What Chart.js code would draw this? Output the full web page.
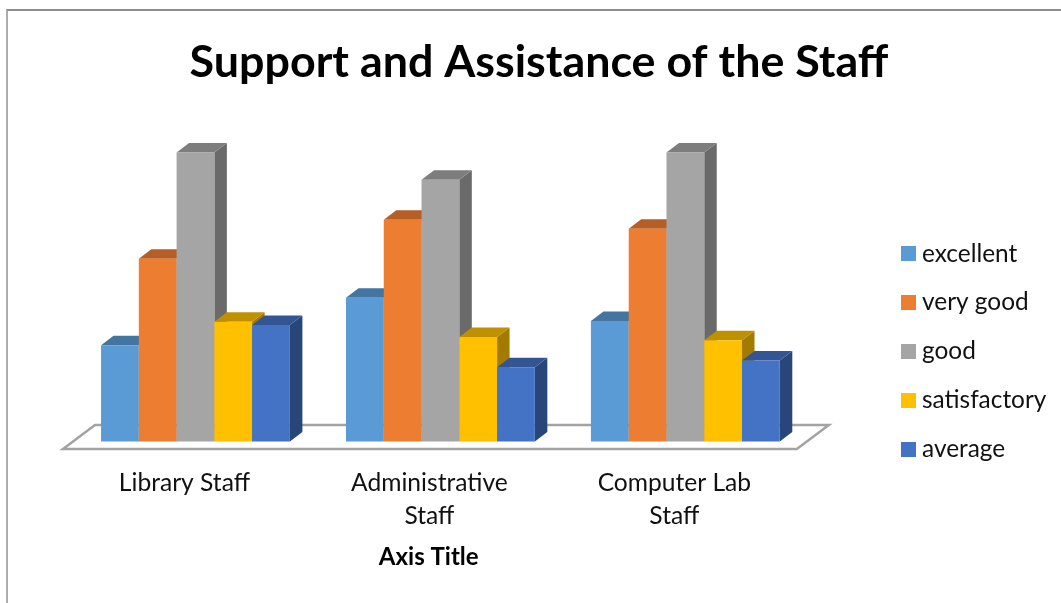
<!DOCTYPE html>
<html>
<head>
<meta charset="utf-8">
<title>Support and Assistance of the Staff</title>
<script src="https://cdn.jsdelivr.net/npm/chart.js@4"></script>
<style>
    html, body { margin: 0; padding: 0; background: #fff; overflow: hidden; }
    #frame {
        position: absolute; left: 6px; top: 9px; width: 1055px; height: 594px;
        border-left: 2px solid #adadad; border-top: 2px solid #8c8c8c;
    }
    #frame canvas { display: block; }
</style>
</head>
<body>
<div id="frame"><canvas id="chart" width="1053" height="592"></canvas></div>
<script>
// Values
const categories = [['Library Staff'], ['Administrative', 'Staff'], ['Computer Lab', 'Staff']];
const excellent = [12, 17.9, 15];
const veryGood = [22.75, 27.6, 26.5];
const good = [36, 32.6, 36];
const satisfactory = [14.9, 13, 12.6];
const average = [14.5, 9.25, 10.1];

const seriesNames = ['excellent', 'very good', 'good', 'satisfactory', 'average'];
const seriesValues = [excellent, veryGood, good, satisfactory, average];
const frontColors = ['#5b9bd5', '#ed7d31', '#a5a5a5', '#ffc000', '#4472c4'];
const topColors = ['#4475a0', '#b55e25', '#7d7d7d', '#bf9000', '#335593'];
const sideColors = ['#3a6388', '#9a5020', '#6a6a6a', '#a37b00', '#29467a'];

const FONT = 'Lato, Carlito, sans-serif';
const DEPTH_X = 12.5;
const DEPTH_Y = 9.5;

function polygon(ctx, points, fill) {
    ctx.beginPath();
    points.forEach((p, i) => i ? ctx.lineTo(p[0], p[1]) : ctx.moveTo(p[0], p[1]));
    ctx.closePath();
    ctx.fillStyle = fill;
    ctx.fill();
}

// Legend square as an image, so the text can sit closer than the default gap
function swatch(color) {
    const c = document.createElement('canvas');
    c.width = 15;
    c.height = 15;
    const g = c.getContext('2d');
    g.fillStyle = color;
    g.fillRect(0, 0, 15, 15);
    return c;
}

// Excel style 3D look: floor under the bars, top and side face on every bar
const bars3d = {
    id: 'bars3d',
    beforeDatasetsDraw(chart) {
        const ctx = chart.ctx;
        const area = chart.chartArea;
        const y0 = chart.scales.y.getPixelForValue(0);

        ctx.save();
        ctx.beginPath();
        ctx.moveTo(area.left - 10, y0 + 7.5);
        ctx.lineTo(area.right - 11, y0 + 7.5);
        ctx.lineTo(area.right + 21, y0 - 16.5);
        ctx.lineTo(area.left + 22, y0 - 16.5);
        ctx.closePath();
        ctx.strokeStyle = '#a3a3a3';
        ctx.lineWidth = 2.5;
        ctx.stroke();

        // left to right, so each bar hides the side of the one before it
        chart.getSortedVisibleDatasetMetas().sort((a, b) => a.index - b.index).forEach(meta => {
            meta.data.forEach(bar => {
                const p = bar.getProps(['x', 'y', 'base', 'width']);
                const l = p.x - p.width / 2;
                const r = p.x + p.width / 2;
                polygon(ctx, [[r, p.y], [r + DEPTH_X, p.y - DEPTH_Y], [r + DEPTH_X, p.base - DEPTH_Y], [r, p.base]], sideColors[meta.index]);
                polygon(ctx, [[l, p.y], [l + DEPTH_X, p.y - DEPTH_Y], [r + DEPTH_X, p.y - DEPTH_Y], [r, p.y]], topColors[meta.index]);
                bar.draw(ctx);
            });
        });
        ctx.restore();
    },
    beforeDatasetDraw() {
        return false;
    }
};

new Chart(document.getElementById('chart'), {
    type: 'bar',
    data: {
        labels: categories,
        datasets: seriesNames.map((name, i) => ({
            label: name,
            data: seriesValues[i],
            backgroundColor: frontColors[i],
            borderWidth: 0,
            categoryPercentage: 0.771,
            barPercentage: 1
        }))
    },
    plugins: [bars3d],
    options: {
        responsive: false,
        animation: false,
        layout: { padding: { left: 16, right: 7, top: 0, bottom: 0 } },
        plugins: {
            tooltip: { enabled: false },
            title: {
                display: true,
                text: 'Support and Assistance of the Staff',
                color: '#000',
                font: { family: FONT, size: 44.8, weight: 'bold' },
                padding: { top: 25, bottom: 30.5 }
            },
            legend: {
                position: 'right',
                // empty title only pushes the entries down
                title: { display: true, text: ' ', font: { size: 12 }, padding: 37.3 },
                labels: {
                    color: '#111',
                    font: { family: FONT, size: 24.4 },
                    usePointStyle: true,
                    pointStyleWidth: 3,
                    boxHeight: 15,
                    padding: 24.5,
                    generateLabels(chart) {
                        return Chart.defaults.plugins.legend.labels.generateLabels(chart).map((item, i) => {
                            item.pointStyle = swatch(frontColors[i]);
                            return item;
                        });
                    }
                }
            }
        },
        scales: {
            x: {
                grid: { display: false },
                border: { display: false },
                afterFit(scale) { scale.height = 161.5; },
                ticks: {
                    color: '#111',
                    font: { family: FONT, size: 24.6, lineHeight: 1.35 },
                    labelOffset: -11,
                    padding: 17,
                    maxRotation: 0,
                    autoSkip: false
                },
                title: {
                    display: true,
                    text: 'Axis Title    ',
                    color: '#000',
                    font: { family: FONT, size: 24, weight: 'bold' },
                    padding: { top: 0, bottom: 31.6 }
                }
            },
            y: {
                min: 0,
                max: 40,
                display: true,
                position: 'left',
                grid: { display: false },
                border: { display: false },
                ticks: { display: false },
                afterFit(scale) { scale.width = 49; }
            },
            legendGap: {
                type: 'linear',
                position: 'right',
                grid: { display: false },
                border: { display: false },
                ticks: { display: false },
                afterFit(scale) { scale.width = 74.5; }
            }
        }
    }
});
</script>
</body>
</html>
